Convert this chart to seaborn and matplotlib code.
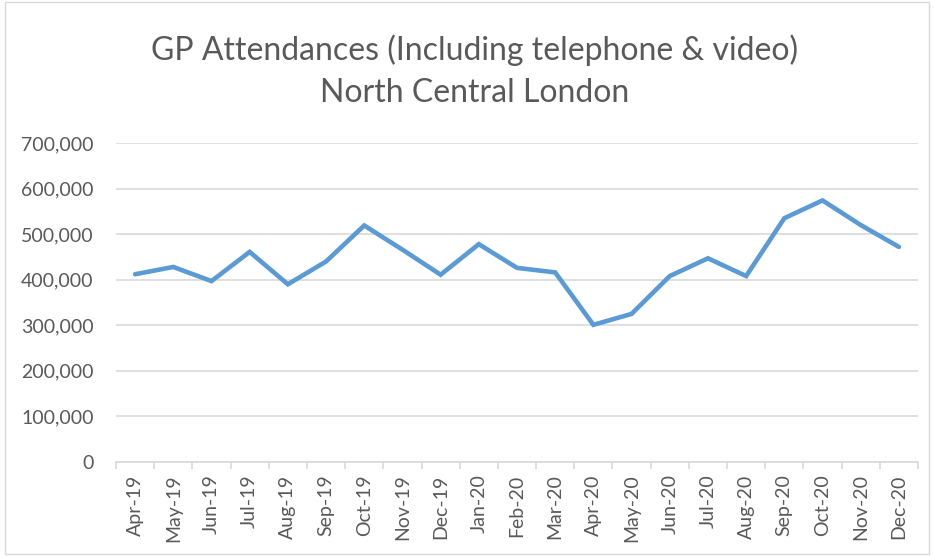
import pandas as pd
import numpy as np
import matplotlib
matplotlib.use("Agg")
import matplotlib.pyplot as plt
import matplotlib.ticker as mticker
import seaborn as sns

# Monthly values
months = ["Apr-19", "May-19", "Jun-19", "Jul-19", "Aug-19", "Sep-19", "Oct-19",
          "Nov-19", "Dec-19", "Jan-20", "Feb-20", "Mar-20", "Apr-20", "May-20",
          "Jun-20", "Jul-20", "Aug-20", "Sep-20", "Oct-20", "Nov-20", "Dec-20"]
attendances = [412000, 428000, 397000, 461000, 390000, 440000, 519000,
               466000, 411000, 478000, 426000, 416000, 301000, 325000,
               408000, 447000, 408000, 535000, 574000, 520000, 472000]
y_ticks = [0, 100000, 200000, 300000, 400000, 500000, 600000, 700000]

df = pd.DataFrame({"month": months, "attendances": attendances})
df["pos"] = np.arange(len(months))

sns.set_theme(style="white")
plt.rcParams["font.family"] = ["Lato", "DejaVu Sans"]

text_grey = "#595959"
fig = plt.figure(figsize=(9.34, 5.56), dpi=100)
ax = fig.add_axes([116 / 934, 1 - 462 / 556, (918 - 116) / 934, (462 - 143) / 556])

sns.lineplot(data=df, x="pos", y="attendances", ax=ax, color="#5B9BD5",
             linewidth=3.3, solid_joinstyle="miter")

ax.set_xlim(-0.5, len(months) - 0.5)
ax.set_ylim(0, 700000)
ax.set_yticks(y_ticks)
ax.yaxis.set_major_formatter(mticker.FuncFormatter(lambda v, p: f"{int(v):,}"))
ax.grid(axis="y", color="#D9D9D9", linewidth=1.2)
ax.set_axisbelow(True)

ax.set_xticks(df["pos"])
ax.set_xticklabels(months, rotation=90)
ax.set_xticks(np.arange(-0.5, len(months)), minor=True)
ax.tick_params(axis="x", which="major", length=0, pad=9, labelsize=14, colors=text_grey)
ax.tick_params(axis="x", which="minor", length=5, width=1.2, color="#D9D9D9", bottom=True)
ax.tick_params(axis="y", length=0, pad=16, labelsize=14, colors=text_grey)

for s in ["top", "right", "left"]:
    ax.spines[s].set_visible(False)
ax.spines["bottom"].set_color("#D9D9D9")
ax.spines["bottom"].set_linewidth(1.2)

ax.set_xlabel("")
ax.set_ylabel("")

fig.text(0.508, 1 - 50 / 556, "GP Attendances (Including telephone & video)",
         ha="center", va="center", fontsize=23, color=text_grey)
fig.text(0.508, 1 - 93 / 556, "North Central London",
         ha="center", va="center", fontsize=23, color=text_grey)

# thin frame round the chart area
fig.patches.append(plt.Rectangle((5 / 934, 2 / 556), 1 - 10 / 934, 1 - 4 / 556,
                                 transform=fig.transFigure, fill=False,
                                 edgecolor="#D9D9D9", linewidth=1))

fig.savefig("out.png", dpi=100)
